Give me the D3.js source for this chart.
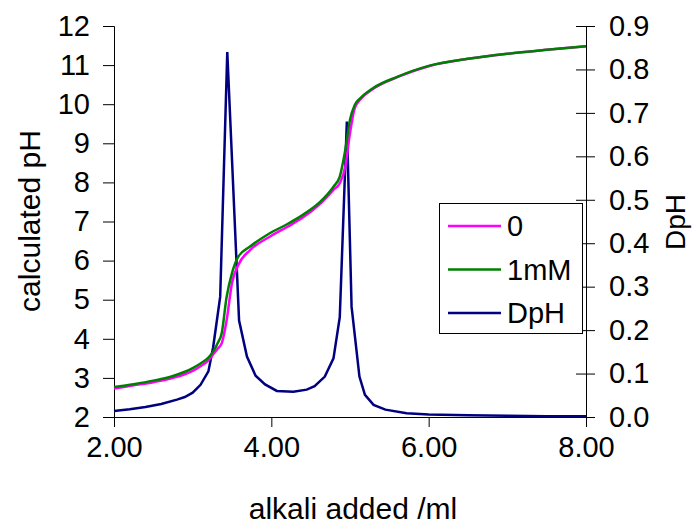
<!DOCTYPE html>
<html><head><meta charset="utf-8">
<script src="https://cdn.jsdelivr.net/npm/d3@7"></script>
<style>body{margin:0;background:#fff}svg{display:block}text{font-family:"Liberation Sans",Arial,sans-serif;fill:#000}</style>
</head><body><svg id="c" width="695" height="525"></svg>
<script>
// Data
const xPH = [2.0,2.25,2.5,2.75,3.0,3.1,3.2,3.26,3.32,3.37,3.43,3.5,3.58,3.73,3.98,4.2,4.4,4.62,4.79,4.87,4.94,5.0,5.06,5.13,5.3,5.6,6.0,6.5,7.0,7.5,8.0];
const ph0 = [2.73,2.81,2.89,3.0,3.18,3.3,3.45,3.6,3.75,3.89,4.45,5.43,5.89,6.27,6.61,6.86,7.1,7.45,7.81,7.98,8.4,9.26,9.9,10.12,10.4,10.69,10.97,11.16,11.29,11.39,11.48];
const ph1mM = [2.77,2.84,2.93,3.05,3.25,3.37,3.52,3.67,3.9,4.15,5.05,5.68,6.1,6.36,6.7,6.93,7.17,7.5,7.89,8.15,8.83,9.6,9.98,10.15,10.42,10.7,10.98,11.16,11.29,11.39,11.48];
const xD = [2.0,2.2,2.4,2.6,2.8,2.9,3.0,3.1,3.2,3.26,3.35,3.44,3.59,3.69,3.8,3.92,4.07,4.28,4.45,4.55,4.68,4.79,4.87,4.96,5.02,5.12,5.19,5.3,5.45,5.72,6.0,6.5,7.0,7.5,8.0];
const dph = [0.014,0.018,0.023,0.03,0.04,0.046,0.056,0.074,0.105,0.16,0.277,0.84,0.222,0.139,0.095,0.075,0.06,0.058,0.063,0.071,0.093,0.135,0.23,0.68,0.254,0.093,0.051,0.028,0.017,0.0085,0.006,0.004,0.003,0.002,0.002];
const xTicks = [2,4,6,8];
const yTicks = [2,3,4,5,6,7,8,9,10,11,12];
const y2Ticks = [0,0.1,0.2,0.3,0.4,0.5,0.6,0.7,0.8,0.9];
const seriesNames = ["0","1mM","DpH"];
const colors = ["#FF00FF","#008000","#000080"];

const svg = d3.select("#c");
const L=114, R=586, T=26, B=417;
const x = d3.scaleLinear().domain([2,8]).range([L,R]);
const y = d3.scaleLinear().domain([2,12]).range([B,T]);
const y2 = d3.scaleLinear().domain([0,0.9]).range([B,T]);
const FS = 29;

// axes
const gx = svg.append("g").attr("transform",`translate(0,${B})`)
  .call(d3.axisBottom(x).tickValues(xTicks).tickFormat(d3.format(".2f")).tickSizeOuter(0).tickSize(10).tickPadding(8));
const gy = svg.append("g").attr("transform",`translate(${L},0)`)
  .call(d3.axisLeft(y).tickValues(yTicks).tickSizeOuter(0).tickSize(11).tickPadding(13));
const gy2 = svg.append("g").attr("transform",`translate(${R},0)`)
  .call(d3.axisRight(y2).tickValues(y2Ticks).tickFormat(d3.format(".1f")).tickSizeOuter(0).tickSize(9).tickPadding(14));
gy2.selectAll(".tick line").attr("x1",-10);
[gx,gy,gy2].forEach(g=>{
  g.select(".domain").attr("stroke","#000").attr("stroke-width",1);
  g.selectAll(".tick line").attr("stroke","#000");
  g.selectAll("text").style("font-size",FS+"px").attr("fill","#000");
});
gx.selectAll("text").attr("dy","0.75em");

// lines
const lineP = (xs,ys_,curve) => d3.line().x((d,i)=>x(xs[i])).y(d=>ys_(d)).curve(curve);
svg.append("path").datum(dph).attr("fill","none").attr("stroke",colors[2]).attr("stroke-width",2.5).attr("stroke-linejoin","miter")
  .attr("d",lineP(xD,y2,d3.curveLinear));
svg.append("path").datum(ph0).attr("fill","none").attr("stroke",colors[0]).attr("stroke-width",2.5)
  .attr("d",lineP(xPH,y,d3.curveMonotoneX));
svg.append("path").datum(ph1mM).attr("fill","none").attr("stroke",colors[1]).attr("stroke-width",2.5)
  .attr("d",lineP(xPH,y,d3.curveMonotoneX));

// titles
svg.append("text").attr("x",353).attr("y",519).attr("text-anchor","middle").style("font-size","30px").text("alkali added /ml");
svg.append("text").attr("transform","translate(40,221) rotate(-90)").attr("text-anchor","middle").style("font-size","30px").text("calculated pH");
svg.append("text").attr("transform","translate(685,222) rotate(-90)").attr("text-anchor","middle").style("font-size","28px").text("DpH");

// legend
const lg = svg.append("g");
lg.append("rect").attr("x",439.5).attr("y",203.5).attr("width",143).attr("height",130).attr("fill","#fff").attr("stroke","#000").attr("stroke-width",1);
const rows=[226,269.5,313];
seriesNames.forEach((n,i)=>{
  lg.append("line").attr("x1",448).attr("x2",501).attr("y1",rows[i]).attr("y2",rows[i]).attr("stroke",colors[i]).attr("stroke-width",2.5);
  lg.append("text").attr("x",507).attr("y",rows[i]).attr("dy","0.36em").style("font-size",FS+"px").text(n);
});
</script></body></html>
